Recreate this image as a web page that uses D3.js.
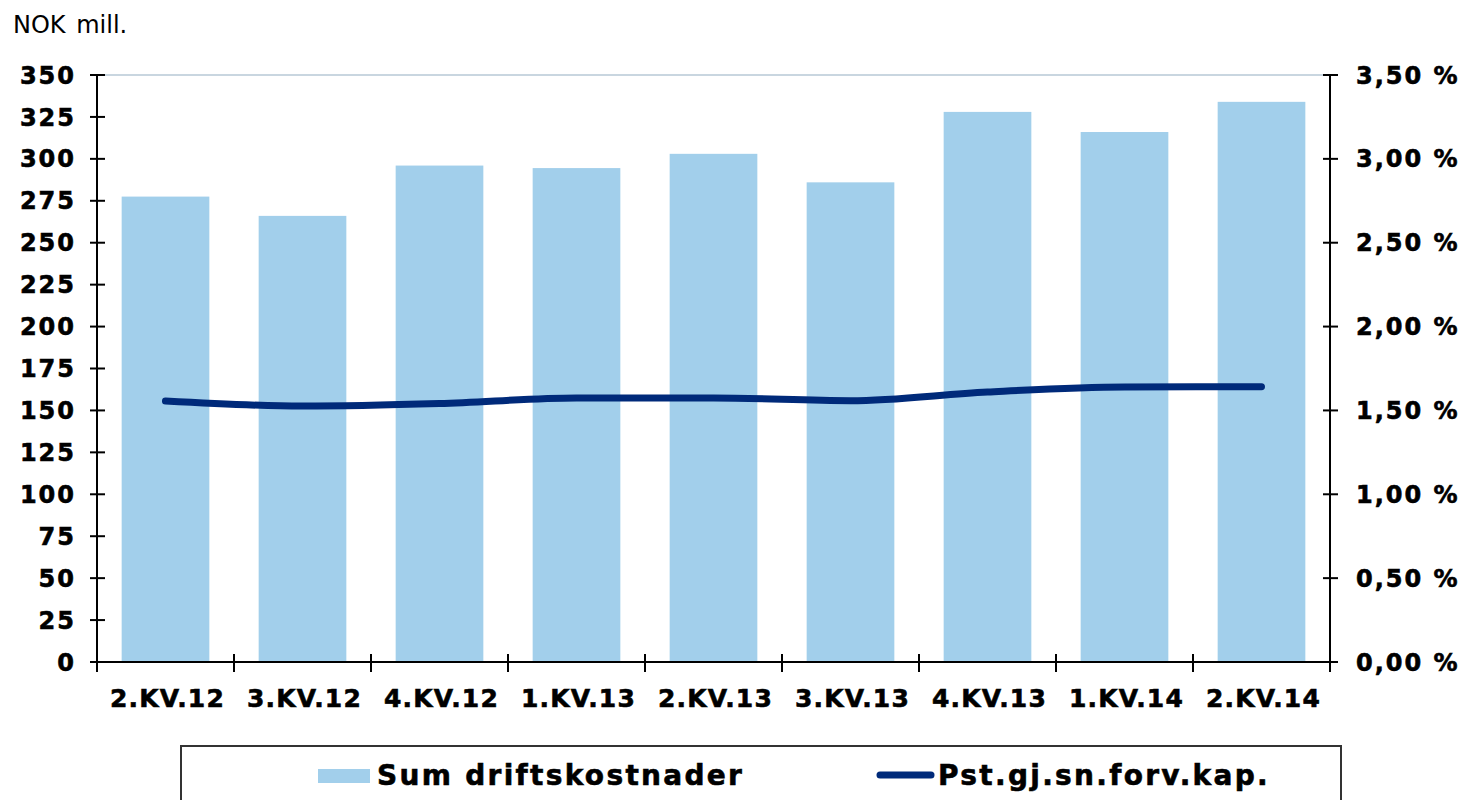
<!DOCTYPE html>
<html><head><meta charset="utf-8">
<script src="https://cdn.jsdelivr.net/npm/d3@7"></script>
<style>
body{margin:0;background:#fff;}
text{font-family:"DejaVu Sans",Verdana,sans-serif;}
</style></head>
<body>
<svg id="c" width="1470" height="800"></svg>
<script>
const categories = ["2.KV.12","3.KV.12","4.KV.12","1.KV.13","2.KV.13","3.KV.13","4.KV.13","1.KV.14","2.KV.14"];
const costs = [277.5, 266, 296, 294.5, 303, 286, 328, 316, 334];
const pct = [1.556, 1.526, 1.541, 1.574, 1.574, 1.558, 1.610, 1.640, 1.641];
const leftTicks = [0,25,50,75,100,125,150,175,200,225,250,275,300,325,350];
const rightTicks = [0,0.5,1,1.5,2,2.5,3,3.5];
const seriesNames = ["Sum driftskostnader","Pst.gj.sn.forv.kap."];

const svg = d3.select("#c");
const L = 97, R = 1330, T = 75, B = 662;
const xb = d3.scaleBand().domain(categories).range([L, R]).paddingInner(0.36).paddingOuter(0.18);
const xc = d3.scaleBand().domain(categories).range([L, R]).padding(0);
const yL = d3.scaleLinear().domain([0,350]).range([B, T]);
const yR = d3.scaleLinear().domain([0,3.5]).range([B, T]);

// top gridline
svg.append("line").attr("x1",L).attr("x2",R).attr("y1",yL(350)).attr("y2",yL(350))
  .attr("stroke","#b7c9d6").attr("stroke-width",1.5);

// bars
svg.selectAll("rect.bar").data(categories).enter().append("rect")
  .attr("x", d=>xb(d)).attr("width", xb.bandwidth())
  .attr("y", (d,i)=>yL(costs[i])).attr("height",(d,i)=>B-yL(costs[i]))
  .attr("fill","#a2cfeb");

// line
const line = d3.line().x((d,i)=>xc(categories[i])+xc.bandwidth()/2).y(d=>yR(d)).curve(d3.curveMonotoneX);
svg.append("path").datum(pct).attr("d",line).attr("fill","none")
  .attr("stroke","#002a7a").attr("stroke-width",7).attr("stroke-linecap","round").attr("stroke-linejoin","round");

// axes
const ax = svg.append("g").attr("stroke","#000").attr("stroke-width",2);
ax.append("line").attr("x1",L).attr("x2",L).attr("y1",T).attr("y2",B+1);
ax.append("line").attr("x1",R).attr("x2",R).attr("y1",T).attr("y2",B+10);
ax.append("line").attr("x1",L-5).attr("x2",R+8).attr("y1",B).attr("y2",B);
leftTicks.forEach(t=>{
  ax.append("line").attr("x1",L-7).attr("x2",L+8).attr("y1",yL(t)).attr("y2",yL(t));
});
rightTicks.forEach(t=>{
  ax.append("line").attr("x1",R-7).attr("x2",R+8).attr("y1",yR(t)).attr("y2",yR(t));
});
categories.forEach((c,i)=>{
  const x = xc(c);
  if(i>0) ax.append("line").attr("x1",x).attr("x2",x).attr("y1",B-8).attr("y2",B+10);
});
ax.append("line").attr("x1",L).attr("x2",L).attr("y1",B).attr("y2",B+10);

function heavy(sel){ return sel.attr("font-weight","bold").attr("stroke","#000").attr("stroke-width",0.6).attr("fill","#000"); }

// left labels
heavy(svg.selectAll("text.yl").data(leftTicks).enter().append("text")
  .attr("x",76).attr("y",d=>yL(d)).attr("dy","0.36em").attr("text-anchor","end")
  .attr("font-size",24).attr("letter-spacing",2).text(d=>d));
// right labels
heavy(svg.selectAll("text.yr").data(rightTicks).enter().append("text")
  .attr("x",1356).attr("y",d=>yR(d)).attr("dy","0.36em").attr("text-anchor","start")
  .attr("font-size",24).attr("letter-spacing",2)
  .text(d=>d3.format(".2f")(d).replace(".",",")+" %"));
// x labels
heavy(svg.selectAll("text.xl").data(categories).enter().append("text")
  .attr("x",d=>xc(d)+xc.bandwidth()/2+2).attr("y",707).attr("text-anchor","middle")
  .attr("font-size",25).attr("letter-spacing",1.2).text(d=>d));

// unit label
svg.append("text").attr("x",13).attr("y",33).attr("font-size",24).attr("word-spacing",3).text("NOK mill.");

// legend
svg.append("rect").attr("x",181).attr("y",746).attr("width",1160).attr("height",70)
  .attr("fill","none").attr("stroke","#333").attr("stroke-width",2);
svg.append("rect").attr("x",318).attr("y",769).attr("width",52).attr("height",14).attr("fill","#a2cfeb");
heavy(svg.append("text").attr("x",377).attr("y",785).attr("font-size",28).attr("letter-spacing",2.3).text(seriesNames[0]));
svg.append("line").attr("x1",880).attr("x2",931).attr("y1",775).attr("y2",775)
  .attr("stroke","#002a7a").attr("stroke-width",7).attr("stroke-linecap","round");
heavy(svg.append("text").attr("x",938).attr("y",785).attr("font-size",28).attr("letter-spacing",2.3).text(seriesNames[1]));
</script>
</body></html>
